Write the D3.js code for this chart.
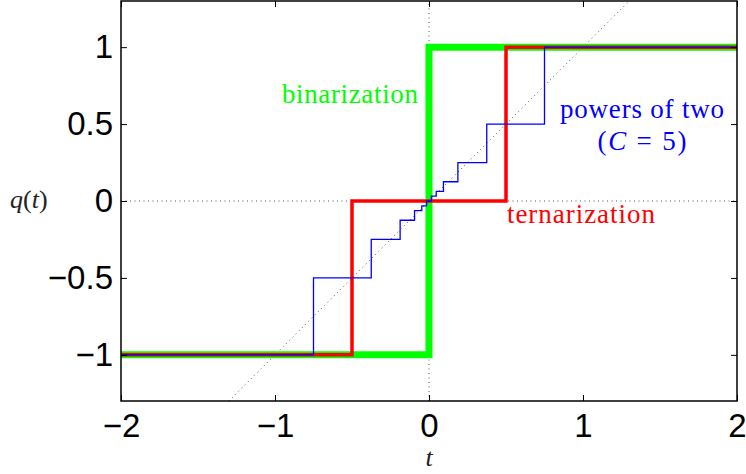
<!DOCTYPE html>
<html>
<head>
<meta charset="utf-8">
<script src="https://cdn.jsdelivr.net/npm/d3@7"></script>
<style>
  html, body { margin: 0; padding: 0; background: #fff; }
  svg { display: block; }
</style>
</head>
<body>
<svg id="chart" width="746" height="474"></svg>
<script>
// ---- data ----
const xTicks = [-2, -1, 0, 1, 2];
const yTicks = [-1, -0.5, 0, 0.5, 1];
const xDomain = [-2, 2];
const yDomain = [-1.3, 1.3];

// binarization: sign(t)
const binThresholds = [0];
const binLevels = [-1, 1];
// ternarization
const terThresholds = [-0.5, 0.5];
const terLevels = [-1, 0, 1];
// powers of two (C = 5)
const powThresholds = [-0.75, -0.375, -0.1875, -0.09375, -0.046875, -0.015625,
                       0.015625, 0.046875, 0.09375, 0.1875, 0.375, 0.75];
const powLevels = [-1, -0.5, -0.25, -0.125, -0.0625, -0.03125, 0,
                   0.03125, 0.0625, 0.125, 0.25, 0.5, 1];

// ---- layout ----
const W = 746, H = 474;
const margin = {left: 121, right: 9, top: 1, bottom: 73};
const iw = W - margin.left - margin.right;
const ih = H - margin.top - margin.bottom;

const svg = d3.select("#chart");
const g = svg.append("g").attr("transform", `translate(${margin.left},${margin.top})`);

const x = d3.scaleLinear().domain(xDomain).range([0, iw]);
const y = d3.scaleLinear().domain(yDomain).range([ih, 0]);

svg.append("defs").append("clipPath").attr("id", "clip")
  .append("rect").attr("width", iw).attr("height", ih);

const plot = g.append("g").attr("clip-path", "url(#clip)");

// reference dotted lines
const dotted = {stroke: "#555", "stroke-width": 1, "stroke-dasharray": "1,3.5"};
function applyAttrs(sel, a) { for (const k in a) sel.attr(k, a[k]); return sel; }
applyAttrs(plot.append("line")
  .attr("x1", x(xDomain[0])).attr("x2", x(xDomain[1])).attr("y1", y(0)).attr("y2", y(0)), dotted);
applyAttrs(plot.append("line")
  .attr("x1", x(0)).attr("x2", x(0)).attr("y1", y(yDomain[0])).attr("y2", y(yDomain[1])), dotted);
applyAttrs(plot.append("line")
  .attr("x1", x(yDomain[0])).attr("x2", x(yDomain[1])).attr("y1", y(yDomain[0])).attr("y2", y(yDomain[1])), dotted);

// build step points
function stepPoints(th, lv) {
  const pts = [[xDomain[0], lv[0]]];
  th.forEach((t, i) => { pts.push([t, lv[i]]); pts.push([t, lv[i + 1]]); });
  pts.push([xDomain[1], lv[lv.length - 1]]);
  return pts;
}
const line = d3.line().x(d => x(d[0])).y(d => y(d[1]));

const series = [
  {th: binThresholds, lv: binLevels, color: "#00ff00", w: 7},
  {th: terThresholds, lv: terLevels, color: "#ff0000", w: 3.5},
  {th: powThresholds, lv: powLevels, color: "#0000ff", w: 1.3}
];
series.forEach(s => {
  plot.append("path")
    .attr("d", line(stepPoints(s.th, s.lv)))
    .attr("fill", "none")
    .attr("stroke", s.color)
    .attr("stroke-width", s.w)
    .attr("stroke-linejoin", "miter")
    .attr("stroke-linecap", "square");
});

// axes
const fmt = d3.format("~g");
const axFont = "'Liberation Sans', Arial, Helvetica, sans-serif";
function styleAxis(sel) {
  sel.select(".domain").remove();
  sel.selectAll(".tick line").attr("stroke", "#000").attr("stroke-width", 1);
  sel.selectAll(".tick text").attr("font-family", axFont).attr("font-size", 33).attr("fill", "#000");
}
g.append("g").attr("transform", `translate(0,${ih})`)
  .call(d3.axisBottom(x).tickValues(xTicks).tickFormat(fmt).tickSizeInner(-6).tickSizeOuter(0).tickPadding(13))
  .call(styleAxis);
g.append("g")
  .call(d3.axisTop(x).tickValues(xTicks).tickFormat("").tickSizeInner(-6).tickSizeOuter(0))
  .call(styleAxis);
g.append("g")
  .call(d3.axisLeft(y).tickValues(yTicks).tickFormat(fmt).tickSizeInner(-6).tickSizeOuter(0).tickPadding(8))
  .call(styleAxis);
g.append("g").attr("transform", `translate(${iw},0)`)
  .call(d3.axisRight(y).tickValues(yTicks).tickFormat("").tickSizeInner(-6).tickSizeOuter(0))
  .call(styleAxis);

g.append("rect").attr("x", 0).attr("y", 0).attr("width", iw).attr("height", ih)
  .attr("fill", "none").attr("stroke", "#000").attr("stroke-width", 1.5);

// labels
const serif = "'Liberation Serif', 'Times New Roman', serif";
function label(tx, ty, anchor, color, len, parts) {
  const t = g.append("text")
    .attr("x", x(tx)).attr("y", y(ty))
    .attr("text-anchor", anchor)
    .attr("font-family", serif).attr("font-size", 27)
    .attr("fill", color);
  parts.forEach(p => t.append("tspan").attr("font-style", p[1] ? "italic" : "normal").text(p[0]));
  if (len) t.attr("textLength", len).attr("lengthAdjust", "spacing");
  return t;
}
label(-0.955, 0.636, "start", "#00ff00", 136, [["binarization", false]]);
label(0.506, -0.143, "start", "#ff0000", 148, [["ternarization", false]]);
label(1.383, 0.539, "middle", "#0000ff", 164, [["powers of two", false]]);
label(1.383, 0.331, "middle", "#0000ff", 89, [["(", false], ["C", true], [" = 5)", false]]);

// axis titles
const qt = svg.append("text").attr("x", 10).attr("y", 208)
  .attr("font-family", serif).attr("font-size", 26).attr("fill", "#222");
qt.append("tspan").attr("font-style", "italic").text("q");
qt.append("tspan").text("(");
qt.append("tspan").attr("font-style", "italic").text("t");
qt.append("tspan").text(")");

svg.append("text").attr("x", margin.left + x(0)).attr("y", 466)
  .attr("text-anchor", "middle")
  .attr("font-family", serif).attr("font-size", 26).attr("font-style", "italic").attr("fill", "#222")
  .text("t");
</script>
</body>
</html>
